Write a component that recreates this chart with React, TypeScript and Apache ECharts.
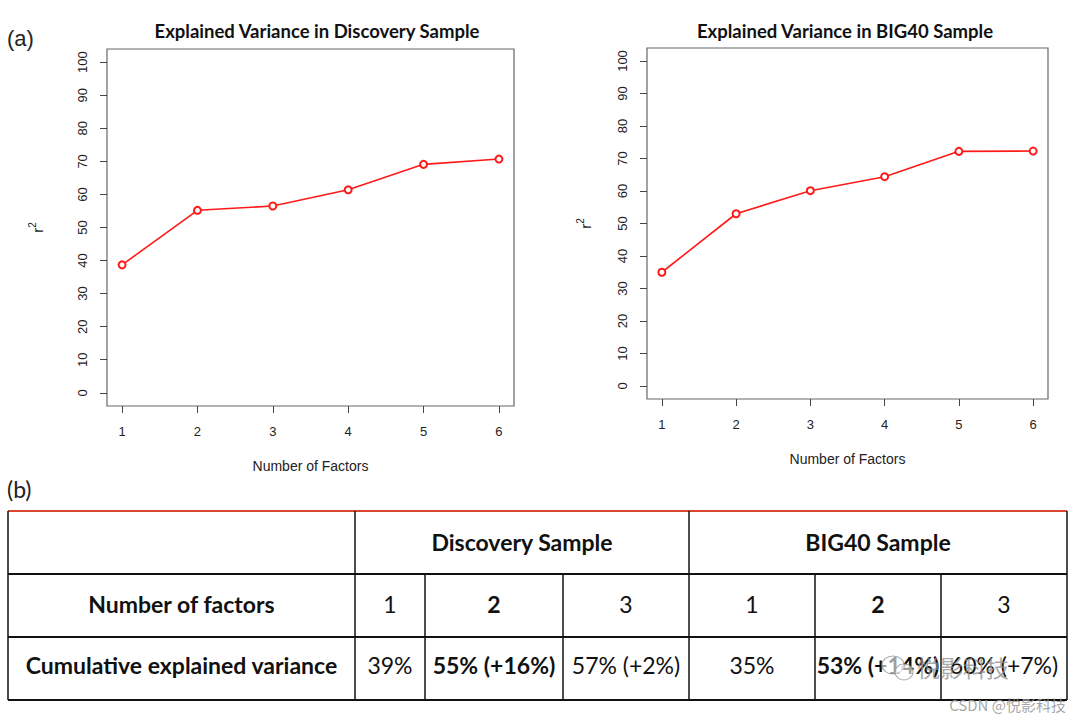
import React, { useEffect, useRef } from "react";
import * as echarts from "echarts";

const factors = [1, 2, 3, 4, 5, 6];
const discoveryR2 = [38.7, 55.2, 56.5, 61.4, 69.1, 70.7];
const big40R2 = [35.0, 53.0, 60.1, 64.4, 72.2, 72.3];
const yTicks = [0, 10, 20, 30, 40, 50, 60, 70, 80, 90, 100];
const chartTitles = ["Explained Variance in Discovery Sample", "Explained Variance in BIG40 Sample"];
const xName = "Number of Factors";
const yName = "{r|r}{s|2}";

const tableSamples = ["Discovery Sample", "BIG40 Sample"];
const rowLabels = ["Number of factors", "Cumulative explained variance"];
const factorRow = ["1", "2", "3", "1", "2", "3"];
const varianceRow = ["39%", "55% (+16%)", "57% (+2%)", "35%", "53% (+14%)", "60% (+7%)"];
const boldCols = [false, true, false, false, true, false];

// table geometry (layout, not data)
const colX = [8, 355, 425, 563, 689, 815, 941, 1067];
const rowY = [511, 574, 637, 700];
const textY = [542, 604, 665];

const TICK_FONT = "'Liberation Sans', Arial, sans-serif";
const CAL = "Lato, 'Open Sans', sans-serif";

function makeAxes(gridIndex: number) {
  const x = {
    type: "value",
    gridIndex,
    min: 0.8,
    max: 6.2,
    name: xName,
    nameLocation: "middle",
    nameGap: 53,
    nameTextStyle: { fontFamily: TICK_FONT, fontSize: 14, color: "#222" },
    axisLine: { show: false, onZero: false },
    axisTick: { show: true, inside: false, customValues: factors, length: 7, lineStyle: { color: "#444", width: 1 } },
    axisLabel: { customValues: factors, margin: 19, fontFamily: TICK_FONT, fontSize: 13, color: "#222" },
    splitLine: { show: false },
  };
  const y = {
    type: "value",
    gridIndex,
    min: -4,
    max: 104,
    name: yName,
    nameLocation: "middle",
    nameRotate: 90,
    nameGap: gridIndex === 0 ? 62 : 54,
    nameTextStyle: {
      fontFamily: TICK_FONT,
      color: "#222",
      rich: {
        r: { fontFamily: TICK_FONT, fontSize: 15, color: "#222", lineHeight: 18, verticalAlign: "bottom" },
        s: { fontFamily: TICK_FONT, fontSize: 10, color: "#222", lineHeight: 18, verticalAlign: "top" },
      },
    },
    axisLine: { show: false, onZero: false },
    axisTick: { show: true, inside: false, customValues: yTicks, length: 7, lineStyle: { color: "#444", width: 1 } },
    axisLabel: { customValues: yTicks, rotate: 90, margin: 18, fontFamily: TICK_FONT, fontSize: 13, color: "#222" },
    splitLine: { show: false },
  };
  return { x, y };
}

function seriesFor(idx: number, values: number[]) {
  return {
    type: "line",
    xAxisIndex: idx,
    yAxisIndex: idx,
    data: factors.map((f, i) => [f, values[i]]),
    symbol: "emptyCircle",
    symbolSize: 7,
    lineStyle: { color: "#ff1a1a", width: 1.6 },
    itemStyle: { color: "#ff1a1a", borderColor: "#ff1a1a", borderWidth: 1.6 },
    emphasis: { disabled: true },
  };
}

function tableGraphics() {
  const els: any[] = [];
  const black = "#111";
  [rowY[1], rowY[2], rowY[3]].forEach((y) => {
    els.push({ type: "line", shape: { x1: colX[0], y1: y, x2: colX[7], y2: y }, style: { stroke: black, lineWidth: 2 } });
  });
  els.push({ type: "line", shape: { x1: colX[0], y1: rowY[0], x2: colX[7], y2: rowY[0] }, style: { stroke: "#d9482e", lineWidth: 2 } });
  els.push({ type: "line", shape: { x1: colX[0], y1: rowY[0], x2: colX[0], y2: rowY[3] }, style: { stroke: black, lineWidth: 1.5 } });
  els.push({ type: "line", shape: { x1: colX[7], y1: rowY[0], x2: colX[7], y2: rowY[3] }, style: { stroke: black, lineWidth: 1.5 } });
  [colX[1], colX[4]].forEach((x) => {
    els.push({ type: "line", shape: { x1: x, y1: rowY[0], x2: x, y2: rowY[1] }, style: { stroke: black, lineWidth: 1.5 } });
  });
  for (let c = 1; c < 7; c++) {
    els.push({ type: "line", shape: { x1: colX[c], y1: rowY[1], x2: colX[c], y2: rowY[3] }, style: { stroke: black, lineWidth: 1.5 } });
  }
  const mid = (a: number, b: number) => (a + b) / 2;
  const base = { textAlign: "center", textVerticalAlign: "middle", fontFamily: CAL, fontSize: 23, fill: "#111" };
  els.push({ type: "text", style: { ...base, text: tableSamples[0], x: mid(colX[1], colX[4]), y: textY[0], fontWeight: "bold" } });
  els.push({ type: "text", style: { ...base, text: tableSamples[1], x: mid(colX[4], colX[7]), y: textY[0], fontWeight: "bold" } });
  rowLabels.forEach((t, r) => {
    els.push({ type: "text", style: { ...base, text: t, x: mid(colX[0], colX[1]), y: textY[r + 1], fontWeight: "bold" } });
  });
  for (let c = 0; c < 6; c++) {
    const cx = mid(colX[c + 1], colX[c + 2]);
    els.push({ type: "text", style: { ...base, text: factorRow[c], x: cx, y: textY[1], fontWeight: boldCols[c] ? "bold" : "normal" } });
    els.push({ type: "text", style: { ...base, text: varianceRow[c], x: cx, y: textY[2], fontWeight: boldCols[c] ? "bold" : "normal" } });
  }
  return els;
}

export default function App() {
  const ref = useRef<HTMLDivElement>(null);
  useEffect(() => {
    if (!ref.current) return;
    const chart = echarts.init(ref.current, undefined, { renderer: "svg" });
    const a0 = makeAxes(0);
    const a1 = makeAxes(1);
    chart.setOption({
      animation: false,
      backgroundColor: "#ffffff",
      title: [
        { text: chartTitles[0], left: 312, top: 16, textAlign: "center", textStyle: { fontFamily: CAL, fontWeight: "bold", fontSize: 18.5, color: "#111" } },
        { text: chartTitles[1], left: 840, top: 16, textAlign: "center", textStyle: { fontFamily: CAL, fontWeight: "bold", fontSize: 18.5, color: "#111" } },
      ],
      grid: [
        { left: 107, top: 49, width: 407, height: 357, show: true, borderColor: "#666", borderWidth: 1.2, backgroundColor: "transparent" },
        { left: 647, top: 48, width: 401, height: 351, show: true, borderColor: "#666", borderWidth: 1.2, backgroundColor: "transparent" },
      ],
      xAxis: [a0.x, a1.x],
      yAxis: [a0.y, a1.y],
      series: [seriesFor(0, discoveryR2), seriesFor(1, big40R2)],
      graphic: [
        { type: "text", style: { text: "(a)", x: 7, y: 38, textVerticalAlign: "middle", fontFamily: TICK_FONT, fontSize: 22, fill: "#222" } },
        { type: "text", style: { text: "(b)", x: 7, y: 489, textVerticalAlign: "middle", fontFamily: CAL, fontSize: 23, fill: "#222" } },
        ...tableGraphics(),
        { type: "ellipse", shape: { cx: 893, cy: 665, rx: 11, ry: 9 }, style: { fill: "rgba(255,255,255,0.6)", stroke: "rgba(150,150,150,0.8)", lineWidth: 1.2 } },
        { type: "ellipse", shape: { cx: 904, cy: 672, rx: 9, ry: 8 }, style: { fill: "rgba(255,255,255,0.6)", stroke: "rgba(150,150,150,0.8)", lineWidth: 1.2 } },
        { type: "text", style: { text: "悦影科技", x: 917, y: 667, textVerticalAlign: "middle", fontFamily: "'Noto Sans CJK SC', sans-serif", fontSize: 23, fill: "rgba(140,140,140,0.75)" } },
        { type: "text", style: { text: "CSDN @悦影科技", x: 1066, y: 704, textAlign: "right", textVerticalAlign: "middle", fontFamily: "'Noto Sans CJK SC', 'Liberation Sans', sans-serif", fontSize: 15, fill: "rgba(150,150,150,0.85)" } },
      ],
    });
    return () => chart.dispose();
  }, []);
  return <div ref={ref} style={{ position: "absolute", left: 0, top: 0, width: 1080, height: 719 }} />;
}
